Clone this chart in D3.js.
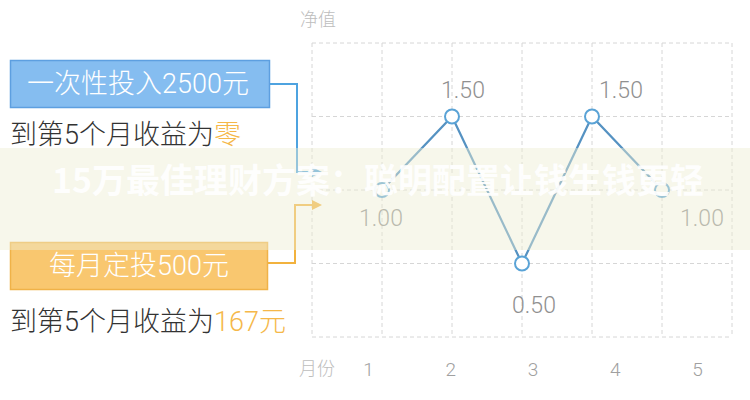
<!DOCTYPE html>
<html><head><meta charset="utf-8">
<script src="https://cdn.jsdelivr.net/npm/d3@7/dist/d3.min.js"></script>
<style>body{margin:0;background:#fff}svg{display:block}</style>
</head><body>
<svg id="c" width="750" height="400"></svg>
<script>
// ---- data ----
const months = [1, 2, 3, 4, 5];
const netValues = [1.00, 1.50, 0.50, 1.50, 1.00];
const valueLabels = ["1.00", "1.50", "0.50", "1.50", "1.00"];
const yTicks = [0, 0.5, 1.0, 1.5, 2.0];
const xAxisTitle = "月份";
const yAxisTitle = "净值";
const lumpBoxText = "一次性投入2500元";
const lumpResult = ["到第5个月收益为", "零"];
const dcaBoxText = "每月定投500元";
const dcaResult = ["到第5个月收益为", "167元"];
const watermark = "15万最佳理财方案：聪明配置让钱生钱更轻";

// ---- layout ----
const svg = d3.select("#c");
const font = "'Roboto','Noto Sans CJK SC',sans-serif";
const numFont = "'Roboto','Noto Sans CJK SC',sans-serif";
const x = d3.scaleLinear().domain([0, 6]).range([312, 732]);
const y = d3.scaleLinear().domain([0, 2]).range([337, 43]);
const xTickPos = d3.scalePoint().domain(months).range([368, 697]);
const labelDx = [-1, 11, 12, 29, 40];
const labelDy = [36, -19, 49, -19, 36];

// grid
const grid = svg.append("g").attr("stroke", "#d6d6d6").attr("stroke-dasharray", "4,3").attr("stroke-width", 1);
grid.selectAll("line.v").data(d3.range(0, 7)).join("line")
  .attr("x1", d => x(d)).attr("x2", d => x(d)).attr("y1", y(2)).attr("y2", y(0));
grid.selectAll("line.h").data(yTicks).join("line").attr("class", "h")
  .attr("x1", x(0)).attr("x2", x(6)).attr("y1", d => y(d)).attr("y2", d => y(d));

// axis titles & ticks
svg.append("text").attr("x", 300).attr("y", 26).attr("font-family", font).attr("font-size", 18)
  .attr("font-weight", 300).attr("fill", "#bdbdbd").text(yAxisTitle);
svg.append("text").attr("x", 299).attr("y", 375).attr("font-family", font).attr("font-size", 18)
  .attr("font-weight", 300).attr("fill", "#bdbdbd").text(xAxisTitle);
const xAxis = d3.axisBottom(xTickPos).tickSize(0).tickPadding(0);
const gx = svg.append("g").attr("transform", "translate(0,362)").call(xAxis);
gx.select(".domain").remove();
gx.selectAll("text").attr("font-family", numFont).attr("font-weight", 300).attr("font-size", 19).attr("fill", "#a0a0a0");

// line
const pts = months.map((m, i) => [m, netValues[i]]);
svg.append("path").datum(pts)
  .attr("d", d3.line().x(d => x(d[0])).y(d => y(d[1])))
  .attr("fill", "none").attr("stroke", "#5592c2").attr("stroke-width", 2.2);
svg.selectAll("circle.p").data(pts).join("circle")
  .attr("cx", d => x(d[0])).attr("cy", d => y(d[1])).attr("r", 7)
  .attr("fill", "#fff").attr("stroke", "#5aa3d6").attr("stroke-width", 2);
svg.selectAll("text.v").data(pts).join("text")
  .attr("x", (d, i) => x(d[0]) + labelDx[i]).attr("y", (d, i) => y(d[1]) + labelDy[i])
  .attr("text-anchor", "middle").attr("font-family", numFont).attr("font-weight", 300).attr("font-size", 23)
  .attr("fill", "#909090").text((d, i) => valueLabels[i]);

// left boxes
svg.append("rect").attr("x", 10.5).attr("y", 60.5).attr("width", 259).attr("height", 47)
  .attr("fill", "#85bdf0").attr("stroke", "#5d9fe0").attr("stroke-width", 1.5);
svg.append("text").attr("x", 138).attr("y", 93).attr("text-anchor", "middle").attr("font-family", font)
  .attr("font-weight", 300).attr("font-size", 27).attr("fill", "#fff").text(lumpBoxText);
const t1 = svg.append("text").attr("x", 10).attr("y", 144).attr("font-family", font).attr("font-weight", 300)
  .attr("font-size", 27).attr("fill", "#333");
t1.append("tspan").text(lumpResult[0]);
t1.append("tspan").attr("fill", "#f5b849").text(lumpResult[1]);

svg.append("rect").attr("x", 10.5).attr("y", 242.5).attr("width", 257).attr("height", 47)
  .attr("fill", "#f9c76f").attr("stroke", "#f0b248").attr("stroke-width", 1.5);
svg.append("text").attr("x", 139).attr("y", 275).attr("text-anchor", "middle").attr("font-family", font)
  .attr("font-weight", 300).attr("font-size", 27).attr("fill", "#fff").text(dcaBoxText);
const t2 = svg.append("text").attr("x", 10).attr("y", 331).attr("font-family", font).attr("font-weight", 300)
  .attr("font-size", 27).attr("fill", "#333");
t2.append("tspan").text(dcaResult[0]);
t2.append("tspan").attr("fill", "#f5b849").text(dcaResult[1]);

// connectors
const defs = svg.append("defs");
[["ab", "#4ea3e0"], ["ao", "#f2b23e"]].forEach(([id, c]) => {
  defs.append("marker").attr("id", id).attr("viewBox", "0 0 10 10").attr("refX", 2).attr("refY", 5)
    .attr("markerWidth", 5).attr("markerHeight", 5).attr("orient", "auto")
    .append("path").attr("d", "M0,0 L10,5 L0,10 Z").attr("fill", c);
});
svg.append("path").attr("d", "M270,84 H297 V172 H314").attr("fill", "none")
  .attr("stroke", "#4ea3e0").attr("stroke-width", 2).attr("marker-end", "url(#ab)");
svg.append("path").attr("d", "M268,263 H295 V205 H314").attr("fill", "none")
  .attr("stroke", "#f2b23e").attr("stroke-width", 2).attr("marker-end", "url(#ao)");

// watermark band
svg.append("rect").attr("x", 0).attr("y", 148).attr("width", 750).attr("height", 102)
  .attr("fill", "#eeeed2").attr("opacity", 0.45);
svg.append("text").attr("x", 52).attr("y", 193).attr("font-family", "'Noto Sans CJK SC',sans-serif").attr("font-weight", "bold")
  .attr("font-size", 34).attr("fill", "#fff").attr("opacity", 0.92).text(watermark);
</script>
</body></html>
